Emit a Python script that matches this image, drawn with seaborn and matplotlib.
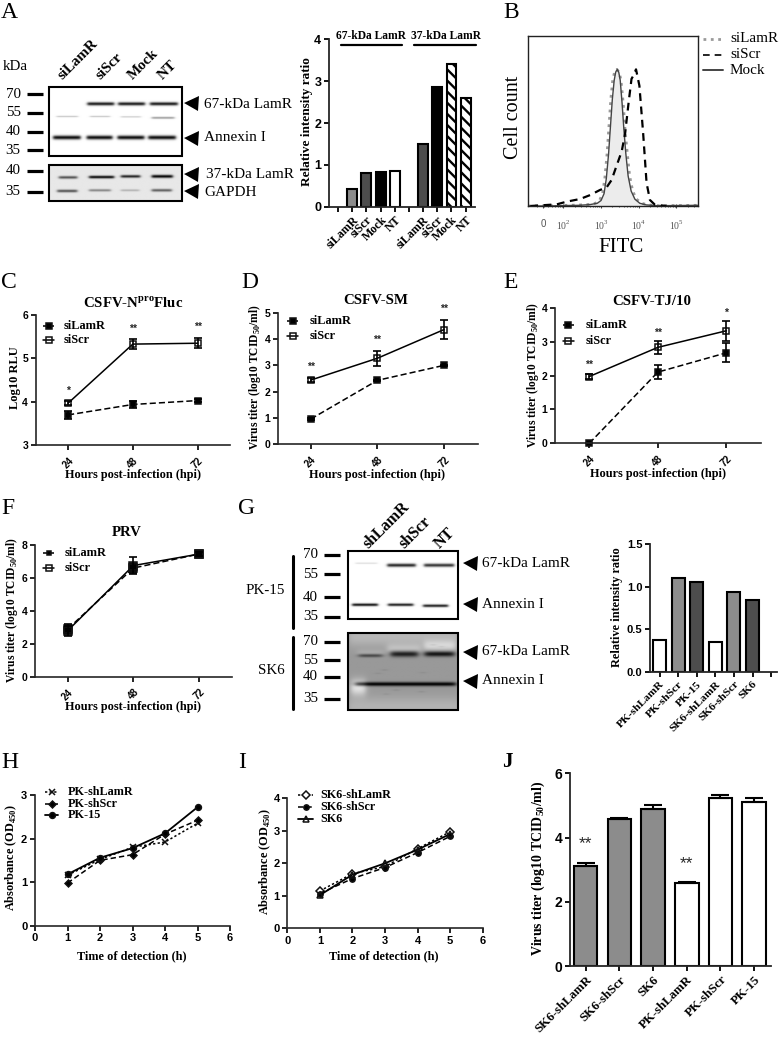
import numpy as np
import pandas as pd
import seaborn as sns
import matplotlib.pyplot as plt
from matplotlib.patches import Rectangle

W, H = 780, 1045
SERIF = "Liberation Serif"
SANS = "Liberation Sans"
GREY = "#8c8c8c"
DARK = "#4d4d4d"

# Panel A bars
a_cats = ["a1", "a2", "a3", "a4", "b1", "b2", "b3", "b4"]
a_order = ["x0", "a1", "a2", "a3", "a4", "x1", "b1", "b2", "b3", "b4"]
a_labels = ["", "siLamR", "siScr", "Mock", "NT", "", "siLamR", "siScr", "Mock", "NT"]
a_vals = [0.42, 0.81, 0.82, 0.86, 1.5, 2.86, 3.41, 2.6]
a_cols = [GREY, DARK, "black", "white", DARK, "black", "white", "white"]
a_hatch = ["", "", "", "", "", "", "\\\\\\", "\\\\\\"]

# Panel B histogram (log10 FITC, % of peak)
mock_log = [1.05, 1.6, 2.0, 2.4, 2.7, 2.9, 3.0, 3.08, 3.14, 3.2, 3.25, 3.3, 3.35, 3.39, 3.43,
            3.47, 3.51, 3.56, 3.61, 3.66, 3.72, 3.8, 3.9, 4.03, 4.2, 4.5, 5.57]
mock_cnt = [0, 0, 0.3, 0.5, 1, 2, 4, 9, 20, 38, 58, 78, 92, 98, 100,
            98, 92, 75, 55, 38, 22, 11, 5, 2, 0.8, 0.2, 0.5]
lamr_log = [1.05, 1.6, 2.0, 2.4, 2.7, 2.85, 2.96, 3.04, 3.1, 3.16, 3.21, 3.26, 3.31, 3.36, 3.42,
            3.48, 3.53, 3.59, 3.64, 3.7, 3.76, 3.84, 3.94, 4.08, 4.25, 4.55, 5.57]
lamr_cnt = [0, 0.2, 0.4, 0.7, 1.2, 2, 4, 9, 20, 38, 58, 78, 92, 98, 100,
            98, 92, 75, 55, 38, 22, 11, 5, 2, 0.8, 0.2, 0.5]
scr_log = [1.12, 1.82, 2.09, 2.44, 2.71, 2.97, 3.15, 3.28, 3.42, 3.55, 3.64, 3.73, 3.81, 3.87,
           3.93, 4.02, 4.12, 4.21, 4.3, 4.43, 4.74]
scr_cnt = [0, 1.2, 3.2, 5.1, 8, 11.7, 13.7, 19, 30, 40, 53, 75, 93, 96,
           100, 88, 53, 17, 4.4, 1, 0]

# Panels C, D, E, F
hours = [24, 48, 72]
c_lamr, c_lamr_err = [3.7, 3.94, 4.03], [0.1, 0.08, 0.03]
c_scr, c_scr_err = [3.97, 5.33, 5.35], [0.05, 0.12, 0.12]
c_stars, c_star_y = ["*", "**", "**"], [4.25, 5.68, 5.72]
d_lamr, d_lamr_err = [0.96, 2.43, 3.0], [0.03, 0.03, 0.03]
d_scr, d_scr_err = [2.44, 3.27, 4.36], [0.08, 0.28, 0.35]
d_stars, d_star_y = ["**", "**", "**"], [2.95, 3.96, 5.13]
e_lamr, e_lamr_err = [0, 2.1, 2.67], [0, 0.2, 0.28]
e_scr, e_scr_err = [1.97, 2.83, 3.32], [0.06, 0.2, 0.3]
e_stars, e_star_y = ["**", "**", "*"], [2.31, 3.25, 3.85]
f_lamr, f_lamr_err = [2.9, 6.6, 7.45], [0.3, 0.3, 0.1]
f_scr, f_scr_err = [2.8, 6.75, 7.45], [0.3, 0.5, 0.1]

# Panel G bars
g_cats = ["PK-shLamR", "PK-shScr", "PK-15", "SK6-shLamR", "SK6-shScr", "SK6"]
g_vals = [0.37, 1.1, 1.06, 0.35, 0.94, 0.84]
g_cols = ["white", GREY, DARK, "white", GREY, DARK]

# Panels H, I
times = [1, 2, 3, 4, 5]
h_lamr = [1.16, 1.52, 1.8, 1.92, 2.35]
h_scr = [0.98, 1.5, 1.63, 2.1, 2.42]
h_pk = [1.18, 1.56, 1.78, 2.12, 2.72]
i_lamr = [1.15, 1.68, 1.9, 2.45, 2.97]
i_scr = [1.07, 1.53, 1.87, 2.33, 2.83]
i_sk = [1.02, 1.65, 2.0, 2.42, 2.9]

# Panel J
j_cats = ["SK6-shLamR", "SK6-shScr", "SK6", "PK-shLamR", "PK-shScr", "PK-15"]
j_vals = [3.1, 4.57, 4.9, 2.57, 5.22, 5.12]
j_err = [0.1, 0.05, 0.1, 0.05, 0.1, 0.1]
j_cols = [GREY, GREY, GREY, "white", "white", "white"]
j_stars, j_star_y = ["**", "", "", "**", "", ""], [3.82, 0, 0, 3.2, 0, 0]

# Blot bands: x start, x end, y, thickness, darkness (positions on the crop)
blot_a1 = [(260, 340, 310, 5, .9), (352, 432, 310, 5, .9), (447, 530, 310, 5, .9),
           (168, 232, 348, 2, .25), (268, 328, 348, 2, .25), (360, 420, 349, 2, .22), (452, 520, 352, 3, .4),
           (158, 240, 411, 6, .95), (258, 335, 411, 6, .95), (350, 430, 411, 6, .95), (442, 524, 411, 6, .95)]
blot_a2 = [(175, 230, 532, 4, .6), (265, 340, 531, 4, .9), (360, 418, 529, 4, .8), (452, 515, 529, 4.5, .92),
           (170, 230, 572, 4, .6), (265, 330, 570, 3.5, .4), (360, 415, 570, 3, .22), (452, 512, 570, 4, .55)]
blot_g1 = [(285, 350, 220, 2, .15), (380, 465, 226, 5, .85), (490, 580, 226, 5, .8),
           (275, 352, 344, 4, .95), (382, 458, 344, 4, .9), (487, 562, 347, 4, .9)]
blot_g2 = [(265, 595, 440, 30, -.12), (265, 595, 650, 30, -.1),
           (380, 480, 478, 16, -.14), (490, 585, 468, 16, -.2), (290, 370, 488, 10, -.06),
           (295, 365, 497, 5, .35), (390, 472, 492, 9, .55), (492, 580, 492, 8, .55),
           (285, 585, 582, 6, .6), (272, 315, 592, 24, -.3),
           (515, 520, 465, 2, .35), (540, 544, 470, 2, .35), (370, 374, 540, 2, .3), (405, 409, 600, 2, .3),
           (480, 484, 605, 2, .3), (350, 354, 550, 2, .25), (485, 489, 548, 2, .25), (375, 379, 612, 2, .25)]

sns.set_theme(style="ticks")
plt.rcParams["font.family"] = [SERIF, "DejaVu Sans"]
plt.rcParams["mathtext.fontset"] = "custom"
plt.rcParams["mathtext.rm"] = SERIF
plt.rcParams["mathtext.bf"] = SERIF + ":bold"
plt.rcParams["hatch.linewidth"] = 1.7

fig = plt.figure(figsize=(W / 100, H / 100), dpi=100, facecolor="white")


def box(x0, y0, x1, y1):
    return fig.add_axes([x0 / W, 1 - y1 / H, (x1 - x0) / W, (y1 - y0) / H], facecolor="none")


ov = fig.add_axes([0, 0, 1, 1], facecolor="none", zorder=5)
ov.axis("off")


def txt(x, y, s, size=9, bold=True, rot=0, ha="center", va="center", fam=SERIF, col="black"):
    ov.text(x, y, s, fontsize=size, fontweight="bold" if bold else "normal", rotation=rot,
            ha=ha, va=va, family=fam, color=col, rotation_mode="anchor" if rot == 45 else None)


def style(ax, size=8, lw=1.2):
    sns.despine(ax=ax)
    for s in ["left", "bottom"]:
        ax.spines[s].set_linewidth(lw)
    ax.tick_params(length=3.5, width=lw, labelsize=size, pad=2, color="black", labelcolor="black")
    ax.set_xlabel("")
    ax.set_ylabel("")
    plt.setp(ax.get_yticklabels(), family=SANS, fontweight="bold")


def blot(ox, oy, x0, y0, x1, y1, bands, bg=1.0, soft=5):
    # crop coordinates are 3x the figure pixels
    xs = np.arange(x0, x1)
    ys = np.arange(y0, y1)
    xx, yy = np.meshgrid(xs, ys)
    img = np.full(xx.shape, bg, dtype=float)
    for a, b, c, th, d in bands:
        prof_x = 0.5 * (np.tanh((xx - a) / soft) - np.tanh((xx - b) / soft))
        prof_y = np.exp(-((yy - c) / th) ** 2)
        img -= d * prof_x * prof_y
    ext = (ox + x0 / 3, ox + x1 / 3, oy + y1 / 3, oy + y0 / 3)
    ov.imshow(np.clip(img, 0, 1), cmap="gray", vmin=0, vmax=1, extent=ext, aspect="auto", zorder=1,
              interpolation="bilinear")
    ov.add_patch(Rectangle((ext[0], ext[3]), ext[1] - ext[0], ext[2] - ext[3], fill=False,
                           ec="black", lw=1.5, zorder=2))


def kda(x0, x1, xt, ys, labels):
    for y, lab in zip(ys, labels):
        ov.plot([x0, x1], [y, y], color="black", lw=2.3, solid_capstyle="butt")
        txt(xt, y, lab, size=10.8, bold=False, ha="right")


def arrow(x, y, label, xt=None, yt=None):
    ov.plot([x], [y], marker="<", ms=10.8, color="black", mew=0)
    txt(xt if xt else x + 20, yt if yt else y, label, size=11, bold=False, ha="left")


def series(ax, xs, ys, err=None, ls="-", marker="s", ms=4.5, mfc="black", lw=1.1, dashes=None):
    sns.lineplot(x=xs, y=ys, color="black", errorbar=None, ax=ax, lw=lw, linestyle=ls)
    line = ax.get_lines()[-1]
    if dashes:
        line.set_dashes(dashes)
    line.set_clip_on(False)
    line.set_marker(marker)
    line.set_markersize(ms)
    line.set_markerfacecolor(mfc)
    line.set_markeredgecolor("#111111")
    line.set_markeredgewidth(1.1)
    if err is not None:
        ax.errorbar(xs, ys, yerr=err, fmt="none", ecolor="black", elinewidth=1.2, capsize=3, capthick=1.2,
                    clip_on=False)


def key(x0, x1, y, label, xt, ls="-", marker="s", ms=4.5, mfc="black", lw=1.1, size=8.9, dashes=None, bold=True):
    line, = ov.plot([x0, x1], [y, y], color="black", lw=lw, linestyle=ls)
    if dashes:
        line.set_dashes(dashes)
    ov.plot([(x0 + x1) / 2], [y], marker=marker, ms=ms, mfc=mfc, mec="#111111", mew=1.1, ls="none")
    txt(xt, y, label, size=size, ha="left", bold=bold)


def hpi_panel(rect, ylim, yticks, lamr, lamr_err, scr, scr_err, stars, star_y, xlim=(12, 84), ms=(4.5, 5)):
    ax = box(*rect)
    series(ax, hours, lamr, lamr_err, marker="s", ms=ms[0], dashes=(4, 2))
    series(ax, hours, scr, scr_err, marker="s", ms=ms[1], mfc="none", lw=1.1)
    for h, s, y in zip(hours, stars, star_y):
        ax.text(h, y, s, ha="center", va="center", fontsize=7.5, family=SANS, fontweight="bold", clip_on=False)
    ax.set_xlim(*xlim)
    ax.set_ylim(*ylim)
    ax.set_yticks(yticks)
    ax.set_xticks(hours)
    style(ax, 7.5)
    ax.tick_params(axis="x", labelsize=7, pad=4)
    plt.setp(ax.get_xticklabels(), rotation=45, family=SANS, fontweight="bold")
    return ax


def bars(rect, cats, order, vals, cols, ylim, yticks, xlim, labels, size, tick=8.5):
    ax = box(*rect)
    df = pd.DataFrame({"cat": cats, "val": vals})
    sns.barplot(data=df, x="cat", y="val", hue="cat", order=order, hue_order=cats,
                palette=dict(zip(cats, cols)), width=0.7, edgecolor="black", linewidth=1.5,
                saturation=1, legend=False, ax=ax)
    ax.set_xlim(*xlim)
    ax.set_ylim(*ylim)
    ax.set_yticks(yticks)
    ax.set_xticks(range(len(labels)))
    ax.set_xticklabels(labels, rotation=45, ha="right", rotation_mode="anchor",
                       fontsize=size, fontweight="bold", family=SERIF)
    style(ax, tick, lw=1.3)
    ax.tick_params(axis="x", labelsize=size)
    plt.setp(ax.get_xticklabels(), family=SERIF, fontweight="bold")
    return ax


TITER = r"Virus titer (log10 TCID$_{\mathbf{50}}$/ml)"
XHPI = "Hours post-infection (hpi)"

# A
blot(0, 0, 146, 260, 546, 467, blot_a1)
blot(0, 0, 146, 496, 546, 602, blot_a2, bg=0.91)
txt(3, 66, "kDa", size=10.8, bold=False, ha="left")
kda(26.7, 43.3, 20.7, [94.3, 112.7, 131.7, 150.3], ["70", "55", "40", "35"])
kda(26.7, 43.3, 20.7, [171, 191.7], ["40", "35"])
for x, lab in zip([60, 98, 130, 160], ["siLamR", "siScr", "Mock", "NT"]):
    txt(x, 78, lab, size=10.8, rot=45, ha="left", va="center")
arrow(191, 103.3, "67-kDa LamR", 204, 104)
arrow(191, 137.7, "Annexin I", 204, 137.7)
arrow(191, 174, "37-kDa LamR", 206, 174)
arrow(191, 190.7, "GAPDH", 204, 192.7)

ax = bars((329, 39.3, 475, 206.7), a_cats, a_order, a_vals, a_cols, (0, 4), range(5), (-0.64, 9.66), a_labels, 8.6, 9)
for p, h in zip(ax.patches, a_hatch):
    p.set_hatch(h)
txt(307, 122, "Relative intensity ratio", size=9.5, rot=90)
txt(371, 36, "67-kDa LamR", size=8.3)
txt(446, 36, "37-kDa LamR", size=8.3)
ov.plot([341, 402], [44.5, 44.5], color="black", lw=1.6)
ov.plot([414, 476], [44.5, 44.5], color="black", lw=1.6)

# B
ax = box(527.7, 36, 697.7, 206)
ax.fill_between(mock_log, mock_cnt, color="#ececec", lw=0)
sns.lineplot(x=lamr_log, y=lamr_cnt, color="#9a9a9a", lw=2, linestyle=":", errorbar=None, ax=ax)
sns.lineplot(x=mock_log, y=mock_cnt, color="#444444", lw=1, errorbar=None, ax=ax)
sns.lineplot(x=scr_log, y=scr_cnt, color="black", lw=1.6, errorbar=None, ax=ax)
ax.get_lines()[-1].set_dashes((3.5, 2.5))
ax.set_xlim(1.05, 5.57)
ax.set_ylim(0, 124.4)
ax.set_yticks([])
ax.set_xticks([1.47, 2, 3, 4, 5])
ax.set_xticklabels(["0", "$10^{2}$", "$10^{3}$", "$10^{4}$", "$10^{5}$"], fontsize=7, color="#555555", family=SANS)
ax.set_xticks([np.log10(k * 10.0 ** d) for d in [1, 2, 3, 4, 5] for k in range(2, 10) if np.log10(k * 10.0 ** d) < 5.57],
              minor=True)
ax.tick_params(axis="x", which="major", length=3, width=0.8, direction="inout", color="#444444", pad=8)
ax.tick_params(axis="x", which="minor", length=2, width=0.6, direction="inout", color="#444444")
ax.set_xlabel("")
ax.set_ylabel("")
for s in ax.spines.values():
    s.set_linewidth(1)
    s.set_color("#222222")
txt(513, 117, "Cell count", size=14.5, bold=False, rot=90)
txt(620.7, 247, "FITC", size=15, bold=False)
key(703, 723, 39, "siLamR", 730, ls=":", marker="", lw=2, size=10.9, bold=False)
ov.get_lines()[-2].set_color("#9a9a9a")
key(703, 723, 55, "siScr", 730, marker="", lw=1.2, size=10.9, dashes=(4, 3), bold=False)
key(703, 723, 70, "Mock", 730, marker="", lw=1.4, size=10.9, bold=False)
ov.get_lines()[-2].set_color("#444444")

# C
hpi_panel((35.7, 315, 230, 445.3), (3, 6), [3, 4, 5, 6], c_lamr, c_lamr_err, c_scr, c_scr_err, c_stars, c_star_y)
txt(133, 303, r"CSFV-N$^{\mathbf{pro}}$Fluc", size=10.7)
txt(133, 475, XHPI, size=8.8)
txt(15, 378, "Log10 RLU", size=9, rot=90)
key(43, 54, 326, "siLamR", 64, marker="s", dashes=(3, 1.5))
key(43, 54, 340, "siScr", 64, marker="s", mfc="none", ms=5)

# D
hpi_panel((278, 312.7, 477.7, 444.3), (0, 5), range(6), d_lamr, d_lamr_err, d_scr, d_scr_err, d_stars, d_star_y,
          xlim=(12.2, 84.1))
txt(376, 301, "CSFV-SM", size=10.7)
txt(377, 475, XHPI, size=8.8)
txt(255, 377, TITER, size=8.3, rot=90)
key(287, 298, 321, "siLamR", 310, marker="s", dashes=(3, 1.5))
key(287, 298, 335.7, "siScr", 310, marker="s", mfc="none", ms=5)

# E
hpi_panel((555, 307.7, 760.7, 443.3), (0, 4), range(5), e_lamr, e_lamr_err, e_scr, e_scr_err, e_stars, e_star_y)
txt(651.7, 301.7, "CSFV-TJ/10", size=10.7)
txt(657.7, 474, XHPI, size=8.8)
txt(532.7, 375, TITER, size=8.3, rot=90)
key(562.7, 574, 325, "siLamR", 585.3, marker="s", dashes=(3, 1.5))
key(562.7, 574, 341, "siScr", 585.3, marker="s", mfc="none", ms=5)

# F
hpi_panel((35, 545, 231.7, 676.7), (0, 8), [0, 2, 4, 6, 8], f_lamr, f_lamr_err, f_scr, f_scr_err, ["", "", ""], [0, 0, 0],
          ms=(6, 6))
txt(127, 532.7, "PRV", size=10.7)
txt(133, 706.7, XHPI, size=8.8)
txt(12.3, 610, TITER, size=8.3, rot=90)
key(43, 54, 553, "siLamR", 65, marker="s", dashes=(3, 1.5), ms=3.5)
key(43, 54, 568, "siScr", 65, marker="s", mfc="none", ms=4.5)

# G
blot(260, 490, 263, 184, 595, 387, blot_g1)
blot(260, 490, 263, 430, 595, 660, blot_g2, bg=0.6, soft=10)
kda(324, 340, 318, [555, 574.3, 597.3, 616.7], ["70", "55", "40", "35"])
kda(324, 340, 318, [641.7, 660, 676.7, 699], ["70", "55", "40", "35"])
ov.plot([293, 293], [555.7, 628.3], color="black", lw=2.2)
ov.plot([293, 293], [636.7, 709.3], color="black", lw=2.2)
txt(285, 590, "PK-15", size=10.8, bold=False, ha="right")
txt(285, 670, "SK6", size=10.8, bold=False, ha="right")
for x, lab in zip([366, 402, 437], ["shLamR", "shScr", "NT"]):
    txt(x, 546, lab, size=11.5, rot=45, ha="left", va="center")
arrow(470, 563.3, "67-kDa LamR", 482.3)
arrow(470, 604.3, "Annexin I", 482.3)
arrow(470, 651.7, "67-kDa LamR", 482.3)
arrow(470, 681, "Annexin I", 482.3)

bars((650, 544, 776.7, 672), g_cats, g_cats + ["end"], g_vals, g_cols, (0, 1.5), [0, 0.5, 1, 1.5], (-0.52, 6.3),
     g_cats + [""], 8.2, 8)
txt(616.7, 606.7, "Relative intensity ratio", size=8.8, rot=90)

# H
ax = box(35, 795, 230, 925.7)
series(ax, times, h_lamr, marker="x", ms=4.5, dashes=(1.5, 1.5))
series(ax, times, h_scr, marker="D", ms=3.5, dashes=(3.5, 2))
series(ax, times, h_pk, marker="o", ms=4.2, lw=1.3)
ax.set_xlim(0, 6)
ax.set_ylim(0, 3)
ax.set_xticks(range(7))
ax.set_yticks(range(4))
style(ax, 8)
plt.setp(ax.get_xticklabels(), family=SANS, fontweight="bold")
txt(131.7, 956, "Time of detection (h)", size=8.8)
txt(11.7, 858, r"Absorbance (OD$_{\mathbf{450}}$)", size=8.8, rot=90)
key(45, 58, 792.3, "PK-shLamR", 67.3, marker="x", ms=4.5, size=8.7, dashes=(1.5, 1.5))
key(45, 58, 803.7, "PK-shScr", 67.3, marker="D", ms=3.5, size=8.7, dashes=(3.5, 2))
key(45, 58, 815.3, "PK-15", 67.3, marker="o", ms=4.2, size=8.7, lw=1.3)

# I
ax = box(287.3, 798.3, 482.7, 928.3)
series(ax, times, i_lamr, marker="D", ms=3.8, mfc="white", dashes=(1.5, 1.5))
series(ax, times, i_scr, marker="o", ms=3.8, dashes=(3.5, 2))
series(ax, times, i_sk, marker="^", ms=5, mfc="none", lw=1.3)
ax.set_xlim(0, 6)
ax.set_ylim(0, 4)
ax.set_xticks(range(7))
ax.set_yticks(range(5))
style(ax, 8)
plt.setp(ax.get_xticklabels(), family=SANS, fontweight="bold")
txt(383.3, 956.7, "Time of detection (h)", size=8.8)
txt(265, 861.7, r"Absorbance (OD$_{\mathbf{450}}$)", size=8.8, rot=90)
key(298.3, 312.7, 795, "SK6-shLamR", 320.7, marker="D", ms=3.8, mfc="white", size=8.7, dashes=(1.5, 1.5))
key(298.3, 312.7, 806.7, "SK6-shScr", 320.7, marker="o", ms=3.8, size=8.7, dashes=(3.5, 2))
key(298.3, 312.7, 819, "SK6", 320.7, marker="^", ms=5, mfc="none", size=8.7, lw=1.3)

# J
ax = bars((570, 773.3, 771, 966), j_cats, j_cats, j_vals, j_cols, (0, 6), [0, 2, 4, 6], (-0.465, 5.5), j_cats, 9.3, 10)
ax.errorbar(range(6), j_vals, yerr=[np.zeros(6), j_err], fmt="none", ecolor="black", elinewidth=1.5, capsize=6.5,
            capthick=1.5, zorder=1)
for i, (s, y) in enumerate(zip(j_stars, j_star_y)):
    if s:
        ax.text(i, y, s, ha="center", va="center", fontsize=12.5, family=SANS)
txt(538.3, 868, TITER, size=10, rot=90)

# Panel letters
for x, y, s in [(1, 13, "A"), (503, 12, "B"), (1, 283, "C"), (241, 283, "D"), (503, 283, "E"),
                (1, 509, "F"), (238, 509, "G"), (1, 762, "H"), (238, 762, "I")]:
    txt(x, y, s, size=17, bold=False, ha="left")
txt(502, 762, "J", size=15, ha="left")

ov.set_xlim(0, W)
ov.set_ylim(H, 0)
fig.savefig("out.png", dpi=100)
